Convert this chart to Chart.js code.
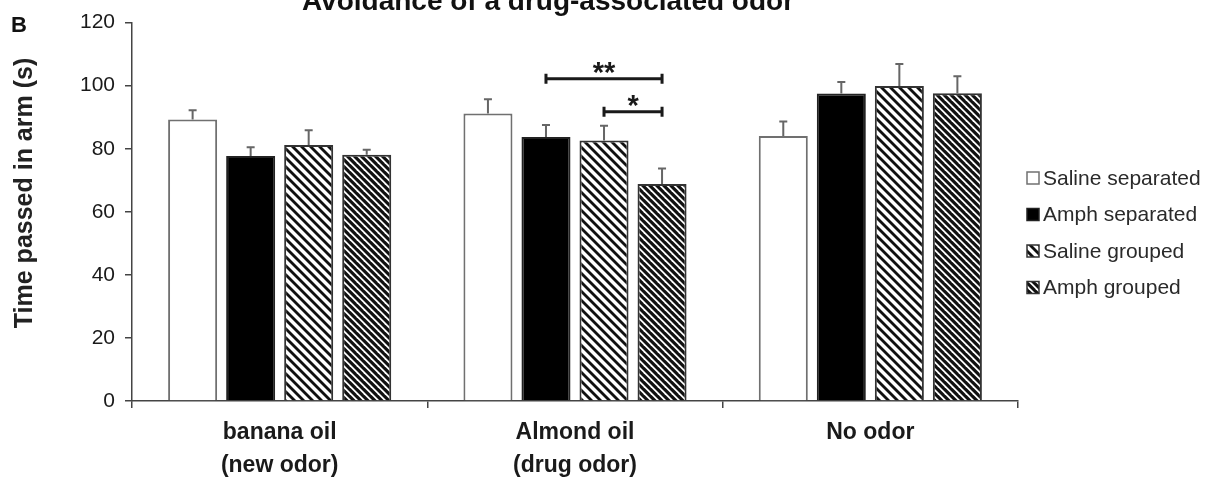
<!DOCTYPE html>
<html>
<head>
<meta charset="utf-8">
<script src="https://cdn.jsdelivr.net/npm/chart.js@4.4.1/dist/chart.umd.min.js"></script>
<style>
  html, body { margin:0; padding:0; background:#fff; }
  #wrap { width:1219px; height:482px; position:relative; }
</style>
</head>
<body>
<div id="wrap"><canvas id="chart"></canvas></div>
<script>
// data
const categories = [['banana oil', '(new odor)'], ['Almond oil', '(drug odor)'], ['No odor']];
const seriesLabels = ['Saline separated', 'Amph separated', 'Saline grouped', 'Amph grouped'];
const salineSeparated = [89.3, 91.2, 84.0];
const amphSeparated   = [77.7, 83.7, 97.5];
const salineGrouped   = [81.2, 82.6, 99.9];
const amphGrouped     = [78.1, 68.8, 97.6];
const salineSeparatedErr = [2.9, 4.5, 4.6];
const amphSeparatedErr   = [2.8, 3.8, 3.7];
const salineGroupedErr   = [4.7, 4.7, 7.0];
const amphGroupedErr     = [1.6, 4.9, 5.4];
const yTicks = [0, 20, 40, 60, 80, 100, 120];
// significance brackets (category, from series, to series, level, mark)
const sigCategory = [1, 1];
const sigFrom = [1, 2];
const sigTo = [3, 3];
const sigLevel = [102.2, 91.7];
const sigText = ['**', '*'];

const FONT = "'Liberation Sans', Arial, Helvetica, sans-serif";
const canvas = document.getElementById('chart');
const mainCtx = canvas.getContext('2d');

// diagonal "\" stripes
function hatch(period, stripe, bg, fg) {
  const c = document.createElement('canvas');
  c.width = period; c.height = period;
  const g = c.getContext('2d');
  g.fillStyle = bg; g.fillRect(0, 0, period, period);
  g.fillStyle = fg;
  for (const k of [-period, 0, period]) {
    g.beginPath();
    g.moveTo(k, 0); g.lineTo(k + stripe, 0);
    g.lineTo(k + stripe + period, period); g.lineTo(k + period, period);
    g.closePath(); g.fill();
  }
  return mainCtx.createPattern(c, 'repeat');
}

const hatchLight = hatch(9, 4, '#fff', '#111');
const hatchDark = hatch(7, 4.5, '#fff', '#111');

const datasets = [
  { label: seriesLabels[0], data: salineSeparated, err: salineSeparatedErr, backgroundColor: '#fff', borderColor: '#707070', borderWidth: 2 },
  { label: seriesLabels[1], data: amphSeparated, err: amphSeparatedErr, backgroundColor: '#000', borderColor: '#222', borderWidth: 2 },
  { label: seriesLabels[2], data: salineGrouped, err: salineGroupedErr, backgroundColor: hatchLight, borderColor: '#333', borderWidth: 2 },
  { label: seriesLabels[3], data: amphGrouped, err: amphGroupedErr, backgroundColor: hatchDark, borderColor: '#333', borderWidth: 2 }
].map(d => Object.assign(d, { categoryPercentage: 0.786, barPercentage: 0.845, borderSkipped: 'bottom' }));

const errorBars = {
  id: 'errorBars',
  afterDatasetsDraw(chart) {
    const ctx = chart.ctx, y = chart.scales.y;
    ctx.save();
    ctx.strokeStyle = '#666';
    ctx.lineWidth = 2;
    chart.data.datasets.forEach((ds, di) => {
      chart.getDatasetMeta(di).data.forEach((bar, i) => {
        const top = y.getPixelForValue(ds.data[i] + ds.err[i]);
        ctx.beginPath();
        ctx.moveTo(bar.x, bar.y); ctx.lineTo(bar.x, top);
        ctx.moveTo(bar.x - 4, top); ctx.lineTo(bar.x + 4, top);
        ctx.stroke();
      });
    });
    ctx.restore();
  }
};

const brackets = {
  id: 'brackets',
  afterDatasetsDraw(chart) {
    const ctx = chart.ctx, y = chart.scales.y;
    ctx.save();
    ctx.strokeStyle = '#1a1a1a';
    ctx.fillStyle = '#1a1a1a';
    ctx.lineWidth = 3;
    sigText.forEach((txt, k) => {
      const x1 = chart.getDatasetMeta(sigFrom[k]).data[sigCategory[k]].x;
      const x2 = chart.getDatasetMeta(sigTo[k]).data[sigCategory[k]].x;
      const py = y.getPixelForValue(sigLevel[k]);
      ctx.beginPath();
      ctx.moveTo(x1, py); ctx.lineTo(x2, py);
      ctx.moveTo(x1, py - 5); ctx.lineTo(x1, py + 5);
      ctx.moveTo(x2, py - 5); ctx.lineTo(x2, py + 5);
      ctx.stroke();
      ctx.font = 'bold 29px ' + FONT;
      ctx.textAlign = 'center';
      ctx.textBaseline = 'alphabetic';
      ctx.fillText(txt, (x1 + x2) / 2, py + 3);
    });
    ctx.restore();
  }
};

const decorations = {
  id: 'decorations',
  afterDraw(chart) {
    const ctx = chart.ctx;
    ctx.save();
    ctx.fillStyle = '#111';
    ctx.textAlign = 'center';
    ctx.textBaseline = 'alphabetic';
    ctx.font = 'bold 28px ' + FONT;
    ctx.fillText('Avoidance of a drug-associated odor', 548, 10);
    ctx.textAlign = 'left';
    ctx.font = 'bold 22px ' + FONT;
    ctx.fillText('B', 11, 32);
    // y-axis title
    ctx.save();
    ctx.translate(25, 193);
    ctx.rotate(-Math.PI / 2);
    ctx.textAlign = 'center';
    ctx.textBaseline = 'middle';
    ctx.font = 'bold 25px ' + FONT;
    ctx.fillStyle = '#222';
    ctx.fillText('Time passed in arm (s)', 0, 0);
    ctx.restore();
    // legend
    ctx.font = '21px ' + FONT;
    ctx.textBaseline = 'middle';
    chart.data.datasets.forEach((ds, i) => {
      const cy = 178 + i * 36.5;
      ctx.fillStyle = ds.backgroundColor;
      ctx.fillRect(1027, cy - 6, 12, 12);
      ctx.strokeStyle = ds.borderColor;
      ctx.lineWidth = 1.5;
      ctx.strokeRect(1027, cy - 6, 12, 12);
      ctx.fillStyle = '#2a2a2a';
      ctx.fillText(ds.label, 1043, cy + 1);
    });
    ctx.restore();
  }
};

new Chart(canvas, {
  type: 'bar',
  data: { labels: categories, datasets },
  options: {
    responsive: true,
    maintainAspectRatio: false,
    animation: false,
    layout: { padding: { top: 19, right: 201, left: 0, bottom: 0 } },
    plugins: { legend: { display: false }, tooltip: { enabled: false } },
    scales: {
      x: {
        offset: true,
        grid: { offset: true, drawOnChartArea: false, tickLength: 7, color: '#444', lineWidth: 1.5 },
        border: { color: '#444', width: 1.5 },
        ticks: { color: '#1a1a1a', font: { family: FONT, size: 23, weight: 'bold', lineHeight: 1.4 }, padding: 9, maxRotation: 0, autoSkip: false },
        afterFit(s) { s.height = 81; }
      },
      y: {
        min: 0, max: 120,
        afterBuildTicks(s) { s.ticks = yTicks.map(v => ({ value: v })); },
        grid: { drawOnChartArea: false, tickLength: 7, color: '#444', lineWidth: 1.5 },
        border: { color: '#444', width: 1.5 },
        ticks: { color: '#1a1a1a', font: { family: FONT, size: 21 }, padding: 10 },
        afterFit(s) { s.width = 132; }
      }
    }
  },
  plugins: [errorBars, brackets, decorations]
});
</script>
</body>
</html>
